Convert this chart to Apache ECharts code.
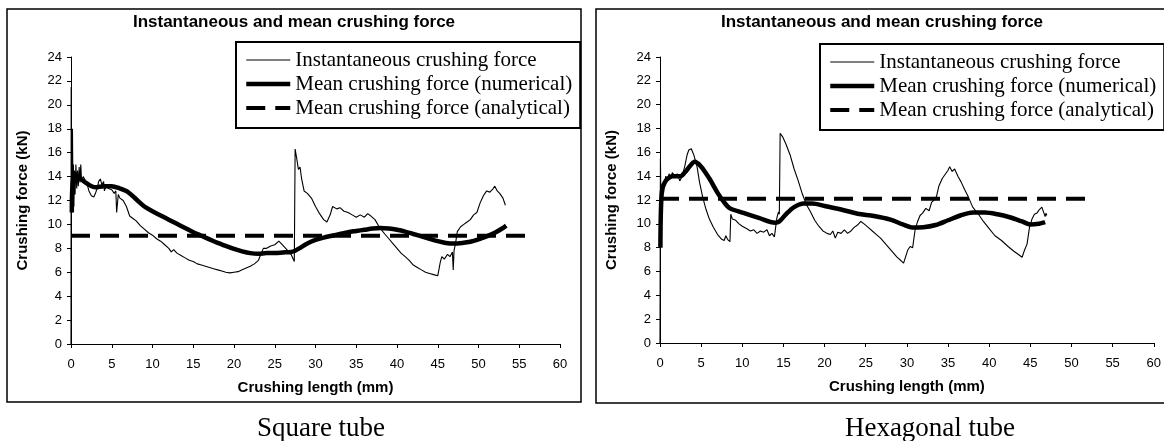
<!DOCTYPE html>
<html>
<head>
<meta charset="utf-8">
<script src="https://cdn.jsdelivr.net/npm/echarts@6/dist/echarts.min.js"></script>
<style>
html,body{margin:0;padding:0;background:#fff;}
#c{width:1164px;height:441px;}
</style>
</head>
<body>
<div id="c"></div>
<script>
// ---------- DATA ----------
const chartTitle = 'Instantaneous and mean crushing force';
const captions = ['Square tube', 'Hexagonal tube'];
const seriesNames = ['Instantaneous crushing force', 'Mean crushing force (numerical)', 'Mean crushing force (analytical)'];
const xAxisName = 'Crushing length (mm)';
const yAxisName = 'Crushing force (kN)';
const xRange = [0, 60, 5];
const yRange = [0, 24, 2];

// Square tube - instantaneous
const sqInstX = [0,0.02,0.08,0.12,0.18,0.25,0.3,0.35,0.4,0.5,0.6,0.7,0.8,0.9,1.0,1.1,1.2,1.3,1.5,1.8,2.0,2.2,2.5,2.8,3.0,3.2,3.4,3.6,3.8,4.0,4.1,4.3,4.6,5.0,5.3,5.5,5.6,5.8,6.0,6.4,6.8,7.2,7.6,8.0,8.5,9.0,9.5,10.0,10.5,11.0,11.5,12.0,12.3,12.6,13.0,13.5,14.0,14.5,15.0,15.5,16.0,16.5,17.0,17.5,18.0,18.5,19.0,19.5,20.0,20.5,21.0,21.5,22.0,22.5,23.0,23.3,23.6,24.0,24.5,25.0,25.5,25.8,26.2,26.6,27.0,27.4,27.5,27.7,27.9,28.1,28.3,28.6,29.0,29.5,30.0,30.5,31.0,31.4,31.8,32.1,32.6,33.0,33.5,34.0,34.5,35.0,35.5,36.0,36.4,36.8,37.3,37.8,38.5,39.0,39.5,40.0,40.5,41.0,41.5,42.0,42.5,43.0,43.5,44.0,44.5,45.0,45.2,45.3,45.5,45.8,46.2,46.5,46.8,46.9,47.0,47.2,47.4,47.8,48.2,48.6,49.0,49.4,49.8,50.2,50.6,51.0,51.4,51.8,52.0,52.3,52.6,53.0,53.3];
const sqInstY = [0,21.5,16,11,18,12,15,11.5,14.5,12.5,15,13,14.5,13.2,14.8,13.5,15.0,13.6,14.0,13.6,13.3,12.8,12.4,12.3,12.6,13.0,13.6,13.8,13.3,13.6,12.8,13.2,13.0,12.9,12.6,12.8,11.0,12.5,12.2,12.0,11.5,10.7,10.5,10.3,9.9,9.6,9.3,9.1,8.8,8.6,8.3,8.0,7.7,7.9,7.6,7.4,7.2,7.0,6.9,6.7,6.6,6.5,6.4,6.3,6.2,6.1,6.0,5.95,6.0,6.05,6.2,6.35,6.5,6.7,7.0,7.5,8.0,8.0,8.2,8.3,8.6,8.4,8.1,7.8,7.5,6.9,16.3,15.5,14.6,14.8,13.8,12.8,12.6,12.2,11.5,10.9,10.4,10.2,10.8,11.5,11.3,11.4,11.1,11.0,10.8,10.6,10.8,10.6,10.9,10.7,10.4,9.8,9.2,8.8,8.4,8.0,7.6,7.3,7.0,6.6,6.4,6.2,6.0,5.9,5.8,5.7,5.8,6.8,7.3,7.1,7.5,7.3,7.7,6.2,7.8,8.5,9.4,9.8,10.0,10.2,10.4,10.8,11.0,11.8,12.4,12.8,12.7,13.0,13.2,12.8,12.6,12.2,11.6];
// Square tube - mean (numerical)
const sqMeanX = [0.1,0.3,1,2,3,4,5,6,7,8,9,10,11,12,13,14,15,16,17,18,19,20,21,22,23,24,25,26,27,27.5,28,29,30,31,32,33,34,35,36,37,38,39,40,41,42,43,44,45,46,47,48,49,50,51,52,53,53.4];
const sqMeanY = [11,14.3,13.9,13.4,13.1,13.2,13.2,13.0,12.7,12.1,11.5,11.1,10.75,10.4,10.05,9.7,9.35,9.05,8.75,8.45,8.2,7.95,7.75,7.6,7.55,7.6,7.6,7.65,7.7,7.8,8.0,8.4,8.7,8.9,9.05,9.2,9.35,9.45,9.55,9.65,9.7,9.65,9.55,9.4,9.2,9.0,8.8,8.6,8.45,8.4,8.45,8.55,8.75,9.0,9.3,9.7,9.9];
// Square tube - mean (analytical)
const sqAnaX = [0, 56.8];
const sqAnaY = [9.05, 9.05];

// Hexagonal tube - instantaneous
const hexInstX = [0,0.05,0.1,0.3,0.5,0.7,0.9,1.1,1.3,1.5,1.8,2.1,2.4,2.7,3.0,3.3,3.5,3.8,4.1,4.3,4.5,4.8,5.2,5.6,6.0,6.5,7.0,7.5,7.8,8.0,8.2,8.5,8.6,8.8,9.2,9.6,10.0,10.5,11.0,11.4,11.8,12.2,12.6,13.0,13.3,13.6,13.9,14.1,14.2,14.4,14.5,14.6,14.9,15.3,15.8,16.3,16.8,17.3,17.8,18.3,18.8,19.3,19.8,20.3,20.7,21.0,21.3,21.6,22.0,22.4,22.8,23.2,23.6,24.0,24.4,24.8,25.3,25.8,26.3,26.8,27.3,27.8,28.3,28.8,29.3,29.6,29.8,30.1,30.4,30.7,31.0,31.3,31.6,31.9,32.3,32.7,33.0,33.3,33.6,33.9,34.3,34.7,35.0,35.2,35.5,35.8,36.2,36.6,37.0,37.5,38.0,38.7,39.3,40.0,40.7,41.5,42.3,43.0,43.6,44.0,44.3,44.6,44.9,45.2,45.5,45.8,46.1,46.4,46.6,46.8,46.9,47.0];
const hexInstY = [0,15.5,12.5,13.4,13.0,14.0,13.6,14.2,13.9,14.3,14.0,14.2,13.6,14.0,14.8,15.8,16.2,16.3,15.8,15.9,14.8,13.5,12.2,11.2,10.4,9.7,9.1,8.7,8.6,9.0,8.7,8.5,10.8,10.4,10.3,10.0,9.8,9.6,9.4,9.5,9.2,9.4,9.3,9.5,9.0,9.2,8.9,8.9,10.5,11.0,10.8,17.6,17.3,16.7,15.8,14.6,13.6,12.5,11.6,11.0,10.3,9.8,9.4,9.2,9.1,9.4,8.8,9.3,9.2,9.5,9.2,9.4,9.7,9.9,10.2,10.0,9.7,9.4,9.1,8.8,8.4,8.0,7.6,7.2,6.9,6.7,6.8,7.8,8.1,8.0,9.5,10.2,10.7,10.9,11.3,11.1,11.8,12.0,12.3,13.2,13.8,14.2,14.5,14.8,14.4,14.6,14.0,13.5,12.9,12.2,11.4,10.8,10.2,9.6,9.0,8.6,8.1,7.7,7.4,7.2,7.8,8.3,9.7,10.4,10.8,10.9,11.2,11.4,11.0,10.6,10.9,10.7];
// Hexagonal tube - mean (numerical)
const hexMeanX = [0.05,0.2,0.6,1.5,2.5,3.0,3.7,4.2,5.0,6.0,7.0,7.8,8.5,10,12,14,14.5,15.3,16.3,17.5,18.5,20,22,24,26,28,29.5,30.6,32,33.5,35,36.5,38,39.5,41,42.5,44,45,46,46.8];
const hexMeanY = [8.0,12.5,13.5,14.0,14.0,14.3,14.9,15.2,14.8,13.8,12.6,11.8,11.3,10.95,10.5,10.1,10.2,10.8,11.4,11.7,11.7,11.5,11.2,10.85,10.65,10.35,9.95,9.7,9.72,9.9,10.3,10.7,10.95,10.95,10.8,10.55,10.2,9.95,10.0,10.15];
// Hexagonal tube - mean (analytical)
const hexAnaX = [0, 52.6];
const hexAnaY = [12.1, 12.1];

// ---------- BUILD ----------
const zip = (xs, ys) => xs.map((x, i) => [x, ys[i]]);
const SANS = 'Liberation Sans, Arial, sans-serif';
const SERIF = 'Liberation Serif, Times New Roman, serif';

const panels = [
  {grid:{left:71, top:57, width:489, height:287}, box:[7,9,574,393], titleX:294, capX:321, legend:[236,42],
   inst:zip(sqInstX, sqInstY), mean:zip(sqMeanX, sqMeanY), ana:zip(sqAnaX, sqAnaY)},
  {grid:{left:660, top:57, width:496, height:286}, box:[596,9,580,394], titleX:882, capX:930, legend:[820,44],
   inst:zip(hexInstX, hexInstY), mean:zip(hexMeanX, hexMeanY), ana:zip(hexAnaX, hexAnaY)}
];

const option = {
  animation:false,
  backgroundColor:'#fff',
  title:[], grid:[], xAxis:[], yAxis:[], series:[], legend:[], graphic:[]
};

panels.forEach((p, i) => {
  option.graphic.push({type:'rect', silent:true, z:-1,
    shape:{x:p.box[0], y:p.box[1], width:p.box[2], height:p.box[3]},
    style:{fill:'none', stroke:'#000', lineWidth:1.5}});
  option.title.push({text:chartTitle, left:p.titleX, top:14, textAlign:'center', padding:0,
    textStyle:{fontFamily:SANS, fontSize:17, fontWeight:'bold', color:'#000'}});
  option.title.push({text:captions[i], left:p.capX, top:415, textAlign:'center', padding:0,
    textStyle:{fontFamily:SERIF, fontSize:27, fontWeight:'normal', color:'#000'}});
  option.grid.push(Object.assign({containLabel:false}, p.grid));
  option.xAxis.push({type:'value', gridIndex:i, min:xRange[0], max:xRange[1], interval:xRange[2],
    name:xAxisName, nameLocation:'middle', nameGap:36,
    nameTextStyle:{fontFamily:SANS, fontSize:15, fontWeight:'bold', color:'#000'},
    axisLine:{show:true, onZero:false, lineStyle:{color:'#000', width:1}},
    axisTick:{show:true, inside:false, length:4, lineStyle:{color:'#000'}},
    axisLabel:{fontFamily:SANS, fontSize:13, color:'#000', margin:14},
    splitLine:{show:false}});
  option.yAxis.push({type:'value', gridIndex:i, min:yRange[0], max:yRange[1], interval:yRange[2],
    name:yAxisName, nameLocation:'middle', nameGap:41, nameRotate:90,
    nameTextStyle:{fontFamily:SANS, fontSize:15, fontWeight:'bold', color:'#000'},
    axisLine:{show:true, lineStyle:{color:'#000', width:1}},
    axisTick:{show:true, inside:false, length:4, lineStyle:{color:'#000'}},
    axisLabel:{fontFamily:SANS, fontSize:13, color:'#000', margin:9},
    splitLine:{show:false}});
  option.series.push({name:seriesNames[0], type:'line', xAxisIndex:i, yAxisIndex:i, data:p.inst,
    symbol:'none', showSymbol:false, color:'#000', lineStyle:{color:'#000', width:1.1}, z:3});
  option.series.push({name:seriesNames[1], type:'line', xAxisIndex:i, yAxisIndex:i, data:p.mean,
    symbol:'none', showSymbol:false, smooth:0.3, color:'#000', lineStyle:{color:'#000', width:4.5}, z:4});
  option.series.push({name:seriesNames[2], type:'line', xAxisIndex:i, yAxisIndex:i, data:p.ana,
    symbol:'none', showSymbol:false, color:'#000', lineStyle:{color:'#000', width:4, type:[19,10]}, z:2});
  option.legend.push({data:seriesNames, orient:'vertical', left:p.legend[0], top:p.legend[1],
    padding:[6,8,8,8], itemWidth:44, itemHeight:14, itemGap:0, selectedMode:false,
    backgroundColor:'#fff', borderColor:'#000', borderWidth:2, borderRadius:0,
    itemStyle:{color:'rgba(0,0,0,0)', borderWidth:0, opacity:0},
    lineStyle:{width:'inherit', type:'inherit', color:'#000', opacity:1},
    textStyle:{fontFamily:SERIF, fontSize:21, color:'#000', lineHeight:24}});
});

const chart = echarts.init(document.getElementById('c'), null, {renderer:'canvas'});
chart.setOption(option);
</script>
</body>
</html>
